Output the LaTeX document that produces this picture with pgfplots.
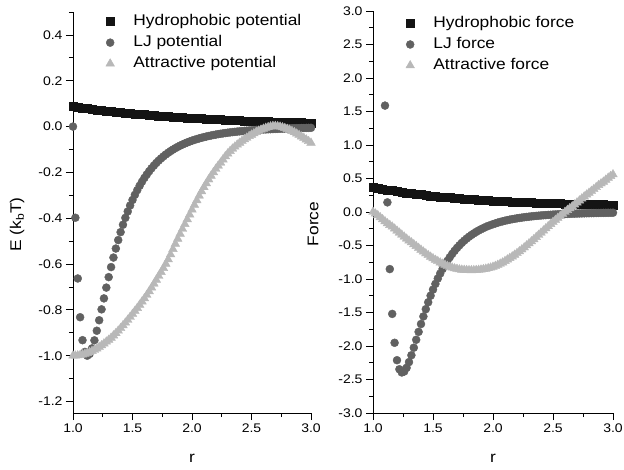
\documentclass[border=0pt]{standalone}
\usepackage{fontspec}
\setmainfont{Liberation Sans}[FakeStretch=1.12]
\usepackage{pgfplots}
\pgfplotsset{compat=1.18}

\definecolor{hyd}{gray}{0.08}
\definecolor{lj}{gray}{0.38}
\definecolor{att}{gray}{0.72}

\pgfplotsset{
  panel/.style={
    scale only axis, anchor=south west, clip=false,
    axis lines=left, axis line style={-, line width=0.8pt},
    xmin=1, xmax=3, xtick={1,1.5,2,2.5,3}, minor xtick={1.25,1.75,2.25,2.75},
    tick align=outside, major tick length=7pt, minor tick length=4pt,
    every tick/.style={line width=0.8pt, black},
    ticklabel style={font=\fontsize{12.5}{14}\selectfont},
    /pgf/number format/fixed, /pgf/number format/fixed zerofill,
    /pgf/number format/precision=1, /pgf/number format/assume math mode=true,
    label style={font=\fontsize{15.5}{17}\selectfont},
    xlabel style={at={(axis description cs:0.5,-0.112)}, anchor=center},
    legend cell align=left,
    legend style={draw=none, fill=none, inner sep=0pt, outer sep=0pt,
      row sep=6.5pt, font=\fontsize{15.5}{17}\selectfont,
      nodes={inner sep=0pt, text height=11pt, text depth=3.5pt}},
    legend image code/.code={
      \path (0pt,0pt) (33pt,0pt);
      \draw[mark repeat=2,mark phase=2,##1] plot coordinates {(0pt,0pt) (10pt,0pt) (20pt,0pt)};},
  },
  hydro/.style={only marks, mark=square*, mark size=4pt, color=hyd},
  ljs/.style={only marks, mark=*, mark size=4pt, color=lj},
  atts/.style={only marks, mark=triangle*, mark size=5pt, color=att},
}

\begin{document}
\begin{tikzpicture}
\path[use as bounding box] (0,0) rectangle (624pt,469pt);

% potentials
\begin{axis}[panel, at={(73pt,56pt)}, width=238pt, height=401pt,
    ymin=-1.25, ymax=0.5,
    ytick={-1.2,-1.0,-0.8,-0.6,-0.4,-0.2,0,0.2,0.4},
    minor ytick={-1.1,-0.9,-0.7,-0.5,-0.3,-0.1,0.1,0.3,0.5},
    xlabel={r}, ylabel={E (k\textsubscript{b}T)},
    ylabel style={at={(axis description cs:-0.235,0.47)}, anchor=center},
    legend style={at={(rel axis cs:0.1134,0.994)}, anchor=north west},
]
\addplot[hydro] table {
1.00 0.0870
1.04 0.0841
1.08 0.0813
1.12 0.0786
1.16 0.0759
1.20 0.0734
1.24 0.0710
1.28 0.0686
1.32 0.0663
1.36 0.0641
1.40 0.0619
1.44 0.0599
1.48 0.0579
1.52 0.0559
1.56 0.0541
1.60 0.0523
1.64 0.0505
1.68 0.0488
1.72 0.0472
1.76 0.0456
1.80 0.0441
1.84 0.0426
1.88 0.0412
1.92 0.0398
1.96 0.0385
2.00 0.0372
2.04 0.0359
2.08 0.0347
2.12 0.0336
2.16 0.0325
2.20 0.0314
2.24 0.0303
2.28 0.0293
2.32 0.0283
2.36 0.0274
2.40 0.0265
2.44 0.0256
2.48 0.0247
2.52 0.0239
2.56 0.0231
2.60 0.0223
2.64 0.0216
2.68 0.0209
2.72 0.0202
2.76 0.0195
2.80 0.0188
2.84 0.0182
2.88 0.0176
2.92 0.0170
2.96 0.0165
3.00 0.0159
};
\addlegendentry{Hydrophobic potential}
\addplot[ljs] table {
1.00 0.0000
1.02 -0.3979
1.04 -0.6629
1.06 -0.8320
1.08 -0.9322
1.10 -0.9834
1.12 -0.9998
1.14 -0.9921
1.16 -0.9679
1.18 -0.9329
1.20 -0.8910
1.22 -0.8452
1.24 -0.7977
1.26 -0.7498
1.28 -0.7027
1.30 -0.6570
1.32 -0.6132
1.34 -0.5716
1.36 -0.5323
1.38 -0.4953
1.40 -0.4607
1.42 -0.4284
1.44 -0.3983
1.46 -0.3704
1.48 -0.3444
1.50 -0.3203
1.52 -0.2980
1.54 -0.2774
1.56 -0.2583
1.58 -0.2406
1.60 -0.2242
1.62 -0.2090
1.64 -0.1950
1.66 -0.1820
1.68 -0.1700
1.70 -0.1588
1.72 -0.1485
1.74 -0.1389
1.76 -0.1301
1.78 -0.1218
1.80 -0.1142
1.82 -0.1070
1.84 -0.1004
1.86 -0.0943
1.88 -0.0885
1.90 -0.0832
1.92 -0.0783
1.94 -0.0736
1.96 -0.0693
1.98 -0.0653
2.00 -0.0615
2.02 -0.0580
2.04 -0.0547
2.06 -0.0517
2.08 -0.0488
2.10 -0.0461
2.12 -0.0436
2.14 -0.0412
2.16 -0.0390
2.18 -0.0369
2.20 -0.0350
2.22 -0.0331
2.24 -0.0314
2.26 -0.0298
2.28 -0.0283
2.30 -0.0268
2.32 -0.0255
2.34 -0.0242
2.36 -0.0230
2.38 -0.0219
2.40 -0.0208
2.42 -0.0198
2.44 -0.0189
2.46 -0.0180
2.48 -0.0171
2.50 -0.0163
2.52 -0.0156
2.54 -0.0148
2.56 -0.0142
2.58 -0.0135
2.60 -0.0129
2.62 -0.0123
2.64 -0.0118
2.66 -0.0113
2.68 -0.0108
2.70 -0.0103
2.72 -0.0099
2.74 -0.0094
2.76 -0.0090
2.78 -0.0087
2.80 -0.0083
2.82 -0.0079
2.84 -0.0076
2.86 -0.0073
2.88 -0.0070
2.90 -0.0067
2.92 -0.0064
2.94 -0.0062
2.96 -0.0059
2.98 -0.0057
3.00 -0.0055
};
\addlegendentry{LJ potential}
\addplot[atts] table {
1.00 -1.000
1.02 -1.000
1.04 -0.999
1.06 -0.997
1.08 -0.995
1.10 -0.992
1.12 -0.989
1.14 -0.985
1.16 -0.980
1.18 -0.975
1.20 -0.969
1.22 -0.962
1.24 -0.955
1.26 -0.947
1.28 -0.939
1.30 -0.931
1.32 -0.922
1.34 -0.912
1.36 -0.902
1.38 -0.891
1.40 -0.880
1.42 -0.868
1.44 -0.856
1.46 -0.844
1.48 -0.831
1.50 -0.818
1.52 -0.805
1.54 -0.792
1.56 -0.778
1.58 -0.764
1.60 -0.750
1.62 -0.735
1.64 -0.719
1.66 -0.703
1.68 -0.686
1.70 -0.669
1.72 -0.652
1.74 -0.635
1.76 -0.618
1.78 -0.599
1.80 -0.580
1.82 -0.558
1.84 -0.535
1.86 -0.512
1.88 -0.490
1.90 -0.468
1.92 -0.447
1.94 -0.426
1.96 -0.405
1.98 -0.384
2.00 -0.363
2.02 -0.342
2.04 -0.322
2.06 -0.302
2.08 -0.283
2.10 -0.265
2.12 -0.248
2.14 -0.231
2.16 -0.215
2.18 -0.200
2.20 -0.185
2.22 -0.171
2.24 -0.158
2.26 -0.144
2.28 -0.130
2.30 -0.118
2.32 -0.107
2.34 -0.097
2.36 -0.088
2.38 -0.079
2.40 -0.071
2.42 -0.063
2.44 -0.056
2.46 -0.049
2.48 -0.042
2.50 -0.036
2.52 -0.030
2.54 -0.024
2.56 -0.019
2.58 -0.014
2.60 -0.010
2.62 -0.006
2.64 -0.003
2.66 0.000
2.68 0.002
2.70 0.002
2.72 0.001
2.74 -0.001
2.76 -0.004
2.78 -0.007
2.80 -0.011
2.82 -0.015
2.84 -0.020
2.86 -0.025
2.88 -0.031
2.90 -0.037
2.92 -0.044
2.94 -0.050
2.96 -0.057
2.98 -0.064
3.00 -0.071
};
\addlegendentry{Attractive potential}
\end{axis}

% forces
\begin{axis}[panel, at={(373pt,56pt)}, width=240pt, height=402pt,
    ymin=-3, ymax=3,
    ytick={-3,-2.5,-2,-1.5,-1,-0.5,0,0.5,1,1.5,2,2.5,3},
    minor ytick={-2.75,-2.25,-1.75,-1.25,-0.75,-0.25,0.25,0.75,1.25,1.75,2.25,2.75},
    xlabel={r}, ylabel={Force},
    ylabel style={at={(axis description cs:-0.25,0.47)}, anchor=center},
    legend style={at={(rel axis cs:0.1125,0.987)}, anchor=north west},
]
\addplot[hydro] table {
1.00 0.3700
1.04 0.3564
1.08 0.3435
1.12 0.3311
1.16 0.3193
1.20 0.3081
1.24 0.2974
1.28 0.2872
1.32 0.2775
1.36 0.2683
1.40 0.2594
1.44 0.2510
1.48 0.2430
1.52 0.2354
1.56 0.2281
1.60 0.2212
1.64 0.2145
1.68 0.2082
1.72 0.2022
1.76 0.1965
1.80 0.1910
1.84 0.1858
1.88 0.1809
1.92 0.1761
1.96 0.1716
2.00 0.1673
2.04 0.1633
2.08 0.1594
2.12 0.1556
2.16 0.1521
2.20 0.1487
2.24 0.1455
2.28 0.1424
2.32 0.1395
2.36 0.1367
2.40 0.1340
2.44 0.1315
2.48 0.1291
2.52 0.1268
2.56 0.1246
2.60 0.1225
2.64 0.1205
2.68 0.1186
2.72 0.1168
2.76 0.1151
2.80 0.1134
2.84 0.1119
2.88 0.1104
2.92 0.1090
2.96 0.1076
3.00 0.1063
};
\addlegendentry{Hydrophobic force}
\addplot[ljs] table {
1.10 1.588
1.12 0.144
1.14 -0.852
1.16 -1.521
1.18 -1.952
1.20 -2.212
1.22 -2.347
1.24 -2.395
1.26 -2.381
1.28 -2.325
1.30 -2.240
1.32 -2.138
1.34 -2.025
1.36 -1.907
1.38 -1.789
1.40 -1.672
1.42 -1.559
1.44 -1.450
1.46 -1.347
1.48 -1.249
1.50 -1.158
1.52 -1.073
1.54 -0.993
1.56 -0.919
1.58 -0.851
1.60 -0.787
1.62 -0.729
1.64 -0.675
1.66 -0.625
1.68 -0.579
1.70 -0.536
1.72 -0.497
1.74 -0.461
1.76 -0.428
1.78 -0.397
1.80 -0.369
1.82 -0.343
1.84 -0.319
1.86 -0.297
1.88 -0.276
1.90 -0.257
1.92 -0.240
1.94 -0.223
1.96 -0.208
1.98 -0.195
2.00 -0.182
2.02 -0.170
2.04 -0.159
2.06 -0.148
2.08 -0.139
2.10 -0.130
2.12 -0.122
2.14 -0.114
2.16 -0.107
2.18 -0.101
2.20 -0.0945
2.22 -0.0888
2.24 -0.0835
2.26 -0.0785
2.28 -0.0739
2.30 -0.0695
2.32 -0.0655
2.34 -0.0617
2.36 -0.0582
2.38 -0.0549
2.40 -0.0518
2.42 -0.0489
2.44 -0.0462
2.46 -0.0436
2.48 -0.0412
2.50 -0.0390
2.52 -0.0369
2.54 -0.0349
2.56 -0.0331
2.58 -0.0313
2.60 -0.0297
2.62 -0.0281
2.64 -0.0267
2.66 -0.0253
2.68 -0.0240
2.70 -0.0228
2.72 -0.0216
2.74 -0.0205
2.76 -0.0195
2.78 -0.0185
2.80 -0.0176
2.82 -0.0168
2.84 -0.0160
2.86 -0.0152
2.88 -0.0145
2.90 -0.0138
2.92 -0.0131
2.94 -0.0126
2.96 -0.0120
2.98 -0.0114
3.00 -0.0109
};
\addlegendentry{LJ force}
\addplot[atts] table {
1.00 0.000
1.02 -0.025
1.04 -0.050
1.06 -0.080
1.08 -0.110
1.10 -0.140
1.12 -0.170
1.14 -0.195
1.16 -0.220
1.18 -0.250
1.20 -0.280
1.22 -0.310
1.24 -0.340
1.26 -0.370
1.28 -0.400
1.30 -0.428
1.32 -0.455
1.34 -0.483
1.36 -0.510
1.38 -0.538
1.40 -0.565
1.42 -0.593
1.44 -0.620
1.46 -0.645
1.48 -0.670
1.50 -0.693
1.52 -0.715
1.54 -0.735
1.56 -0.755
1.58 -0.773
1.60 -0.790
1.62 -0.806
1.64 -0.820
1.66 -0.832
1.68 -0.843
1.70 -0.851
1.72 -0.858
1.74 -0.863
1.76 -0.866
1.78 -0.868
1.80 -0.870
1.82 -0.871
1.84 -0.870
1.86 -0.868
1.88 -0.865
1.90 -0.861
1.92 -0.855
1.94 -0.848
1.96 -0.840
1.98 -0.831
2.00 -0.820
2.02 -0.806
2.04 -0.790
2.06 -0.773
2.08 -0.755
2.10 -0.733
2.12 -0.710
2.14 -0.688
2.16 -0.665
2.18 -0.640
2.20 -0.615
2.22 -0.588
2.24 -0.560
2.26 -0.530
2.28 -0.500
2.30 -0.470
2.32 -0.440
2.34 -0.408
2.36 -0.375
2.38 -0.343
2.40 -0.310
2.42 -0.278
2.44 -0.245
2.46 -0.213
2.48 -0.180
2.50 -0.150
2.52 -0.120
2.54 -0.090
2.56 -0.060
2.58 -0.030
2.60 0.000
2.62 0.028
2.64 0.055
2.66 0.083
2.68 0.110
2.70 0.140
2.72 0.170
2.74 0.200
2.76 0.230
2.78 0.258
2.80 0.285
2.82 0.313
2.84 0.340
2.86 0.370
2.88 0.400
2.90 0.425
2.92 0.450
2.94 0.480
2.96 0.510
2.98 0.535
3.00 0.560
};
\addlegendentry{Attractive force}
\end{axis}
\end{tikzpicture}
\end{document}
